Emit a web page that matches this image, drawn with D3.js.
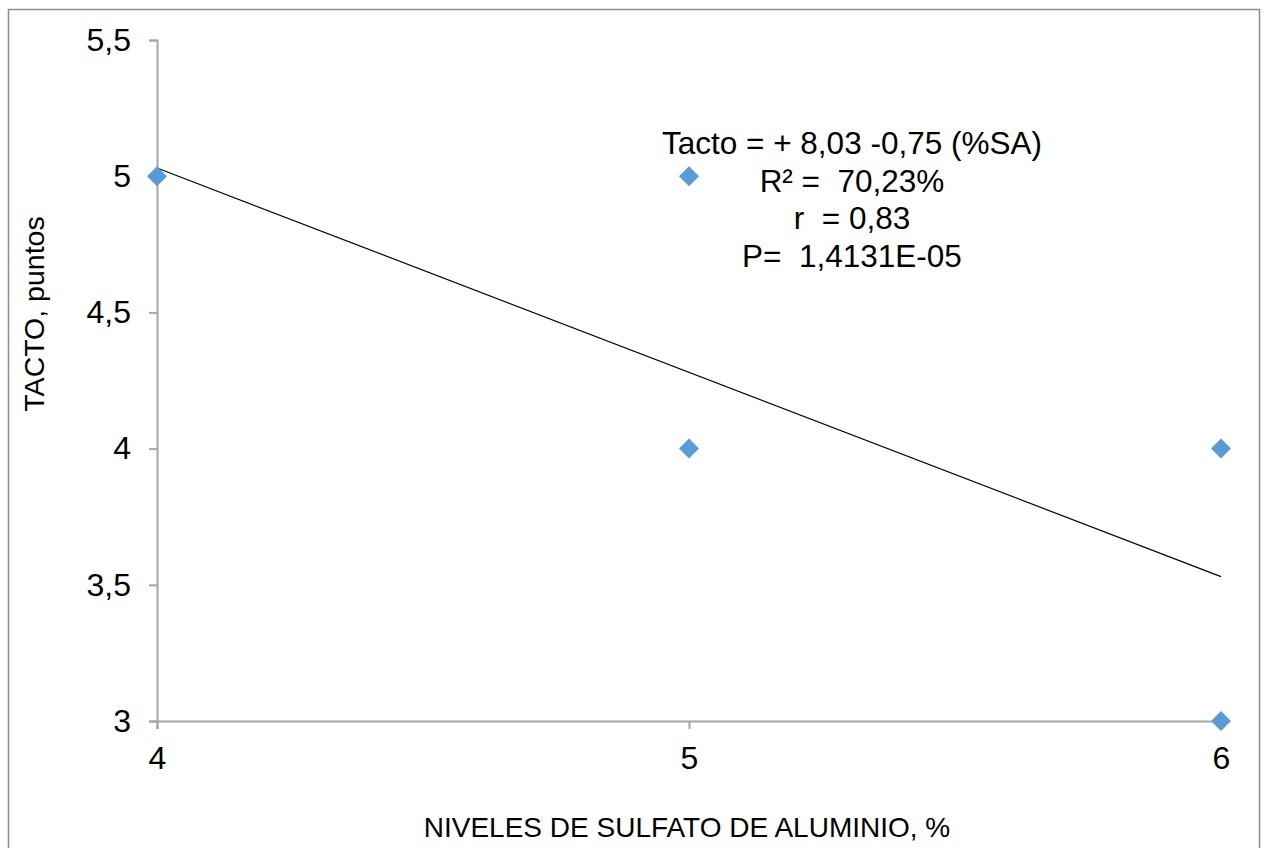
<!DOCTYPE html>
<html>
<head>
<meta charset="utf-8">
<script src="https://cdn.jsdelivr.net/npm/d3@7"></script>
<style>
  body { margin: 0; background: #fff; }
  svg text { font-family: "Liberation Sans", Arial, sans-serif; fill: #000; }
</style>
</head>
<body>
<div id="grafica"></div>
<script>
// datos
const nivelesSA = [4, 5, 5, 6, 6];
const tactoPuntos = [5, 5, 4, 4, 3];
const ticksX = [4, 5, 6];
const ticksY = [3, 3.5, 4, 4.5, 5, 5.5];
const intercepto = 8.03;
const pendiente = -0.75;
const anotacion = ["Tacto = + 8,03 -0,75 (%SA)", "R² =  70,23%", "r  = 0,83", "P=  1,4131E-05"];

const anchoTotal = 1264, altoTotal = 848;
const margin = {top: 40, right: 43, bottom: 127, left: 157};
const width = anchoTotal - margin.left - margin.right;
const height = altoTotal - margin.top - margin.bottom;

const svg = d3.select("#grafica").append("svg")
    .attr("width", anchoTotal)
    .attr("height", altoTotal);

// marco exterior
svg.append("rect")
    .attr("x", 8.5).attr("y", 9.5)
    .attr("width", 1251).attr("height", 860)
    .attr("fill", "none").attr("stroke", "#8c8c8c").attr("stroke-width", 1.5);

const g = svg.append("g").attr("transform", `translate(${margin.left},${margin.top})`);

const x = d3.scaleLinear().domain([4, 6]).range([0, width]);
const y = d3.scaleLinear().domain([3, 5.5]).range([height, 0]);

const fmt = d => String(d).replace(".", ",");

const xAxis = g.append("g")
    .attr("transform", `translate(0,${height})`)
    .call(d3.axisBottom(x).tickValues(ticksX).tickFormat(fmt).tickSize(8).tickSizeOuter(0).tickPadding(17));
const yAxis = g.append("g")
    .call(d3.axisLeft(y).tickValues(ticksY).tickFormat(fmt).tickSize(8).tickSizeOuter(0).tickPadding(18));

[xAxis, yAxis].forEach(a => {
  a.select(".domain").attr("stroke", "#a6a6a6").attr("stroke-width", 2);
  a.selectAll(".tick line").attr("stroke", "#a6a6a6").attr("stroke-width", 2);
  a.selectAll(".tick text").attr("font-size", 32).attr("font-family", "Liberation Sans, Arial, sans-serif").attr("fill", "#000");
});
// el eje x empieza en el tick de 3
xAxis.select(".domain").attr("d", `M-8,0.5H${width}`);
yAxis.select(".domain").attr("d", `M-8,0.5H0.5V${height + 8}`);

// linea de tendencia
const linea = d3.line().x(d => x(d)).y(d => y(intercepto + pendiente * d));
g.append("path")
    .datum([4, 6])
    .attr("d", linea)
    .attr("fill", "none")
    .attr("stroke", "#000")
    .attr("stroke-width", 1.2);

// puntos
const rombo = d3.symbol().type(d3.symbolDiamond2).size(255);
g.selectAll(".punto")
    .data(nivelesSA.map((v, i) => ({x: v, y: tactoPuntos[i]})))
    .join("path")
    .attr("class", "punto")
    .attr("transform", d => `translate(${x(d.x)},${y(d.y)})`)
    .attr("d", rombo)
    .attr("fill", "#5b9bd5");

// anotacion de la ecuacion
g.append("text")
    .attr("x", 852 - margin.left)
    .attr("y", 154 - margin.top)
    .attr("text-anchor", "middle")
    .attr("font-size", 31.5)
    .style("white-space", "pre")
    .selectAll("tspan")
    .data(anotacion)
    .join("tspan")
    .attr("x", 852 - margin.left)
    .attr("dy", (d, i) => i === 0 ? 0 : 37.7)
    .text(d => d);

// titulos de ejes
svg.append("text")
    .attr("x", 687).attr("y", 837)
    .attr("text-anchor", "middle")
    .attr("font-size", 28)
    .text("NIVELES DE SULFATO DE ALUMINIO, %");

svg.append("text")
    .attr("transform", "translate(44,314) rotate(-90)")
    .attr("text-anchor", "middle")
    .attr("font-size", 28.5)
    .text("TACTO, puntos");
</script>
</body>
</html>
